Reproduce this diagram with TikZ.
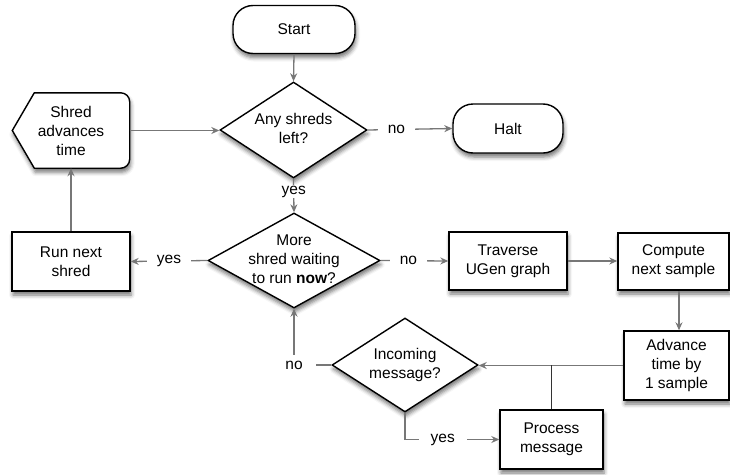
\documentclass[tikz,border=0pt]{standalone}
\usepackage{fontspec}
\setmainfont{Liberation Sans}
\usetikzlibrary{shapes.geometric,arrows.meta,calc,shadows.blur}
\definecolor{edgegray}{HTML}{777777}
\newcommand\dtxt[1]{\smash{\raisebox{-0.25em}{\makebox[0pt]{\begin{tabular}{@{}c@{}}#1\end{tabular}}}}}
\begin{document}
\begin{tikzpicture}[x=1pt,y=-1pt,
  font=\fontsize{15.5}{19}\selectfont,
  shd/.style={blur shadow={shadow xshift=1pt,shadow yshift=-4pt,shadow blur radius=4pt,shadow opacity=55}},
  box/.style={draw=black,line width=1.4pt,fill=white,shd,align=center,inner sep=0pt},
  term/.style={box,rounded corners=20pt},
  dia/.style={diamond,draw=black,line width=1.4pt,fill=white,shd,inner sep=0pt},
  edge/.style={draw=edgegray,line width=1.3pt,-{Stealth[length=8pt,width=7pt]}},
  tline/.style={draw=black!80,line width=1.3pt},
  lbl/.style={fill=white,inner xsep=10pt,inner ysep=2pt}]
\useasboundingbox (0,0) rectangle (730,474);

% nodes
\node[term,minimum width=122pt,minimum height=48pt] (start) at (294,29.5) {Start};
\node[dia,minimum width=147pt,minimum height=96pt] (d1) at (293.5,130) {\dtxt{Any shreds\\left?}};
\node[term,minimum width=110pt,minimum height=49pt] (halt) at (508,128.5) {Halt};

\node[minimum width=117pt,minimum height=75pt,inner sep=0pt] (adv) at (71,130.5) {};
\draw[line width=1.4pt,fill=white,shd]
  (adv.west) -- ($(adv.north west)+(22,0)$) [rounded corners=9pt] -- (adv.north east) -- (adv.south east) [sharp corners] -- ($(adv.south west)+(22,0)$) -- cycle;
\node[align=center] (advtxt) at (adv.center) {Shred\\advances\\time};

\node[box,minimum width=118pt,minimum height=59pt] (run) at (71,261.5) {Run next\\shred};
\node[dia,minimum width=172pt,minimum height=95pt] (d2) at (294,260.5) {\dtxt{More\\shred waiting\\to run \textbf{now}?}};
\node[box,minimum width=118pt,minimum height=58pt] (trav) at (508,261) {Traverse\\UGen graph};
\node[box,minimum width=111pt,minimum height=57pt] (comp) at (673.5,261.5) {Compute\\next sample};
\node[box,minimum width=105pt,minimum height=69pt] (advt) at (676.5,365.5) {Advance\\time by\\1 sample};
\node[dia,minimum width=146pt,minimum height=94pt] (d3) at (405,365) {\dtxt{Incoming\\message?}};
\node[box,minimum width=103pt,minimum height=59pt] (proc) at (551.5,439.5) {Process\\message};

% connectors
\draw[edge] (start.south) -- (d1.north);
\draw[edge] (adv.east) -- (adv.east -| d1.west);
\draw[edge] (d1.east) -- node[lbl,pos=.34]{no} (halt.west);
\draw[edge] (d1.south) -- node[lbl,pos=.38,inner ysep=1pt]{yes} (d2.north);
\draw[edge] (d2.west) -- node[lbl,pos=.5]{yes} (run.east);
\draw[edge] (run.north) -- (adv.south);
\draw[edge] (d2.east) -- node[lbl,pos=.41]{no} (trav.west);
\draw[edge] (trav.east) -- (trav.east -| comp.west);
\draw[edge] ([xshift=5.5pt]comp.south) -- ([xshift=5.5pt]comp.south |- advt.north);
\draw[edge] (advt.west) -- (advt.west -| d3.east);
\draw[tline] (proc.north) -- (proc.north |- d3.east);
\draw[edge] (d3.south) |- node[lbl,pos=.7,inner xsep=12pt]{yes} (proc.west);
\draw[edge] (d3.west) -- (d2.south |- d3.west) node[lbl,inner xsep=13pt,inner ysep=6pt]{no} -- (d2.south);
\end{tikzpicture}
\end{document}
